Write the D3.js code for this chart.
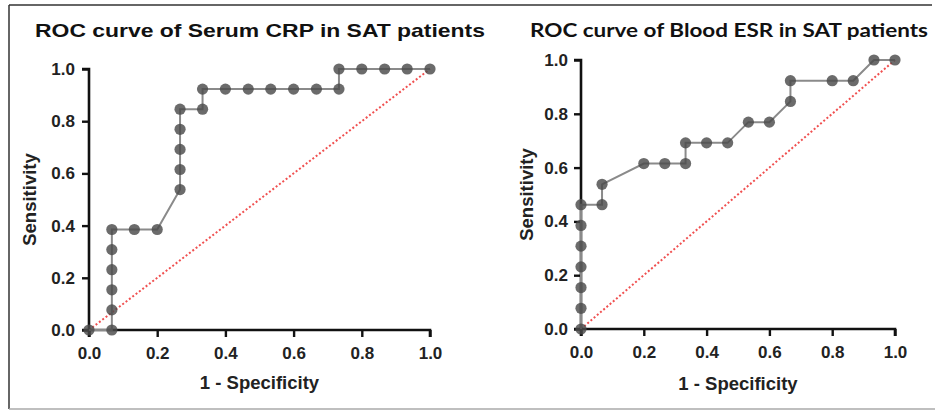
<!DOCTYPE html>
<html><head><meta charset="utf-8">
<script src="https://cdn.jsdelivr.net/npm/d3@7"></script>
<style>
html,body{margin:0;padding:0;background:#fff;}
svg{display:block;}
</style></head>
<body>
<svg id="c" width="935" height="410"></svg>
<script>
// Data
const ticks = [0.0, 0.2, 0.4, 0.6, 0.8, 1.0];
const crpFPR = [0, 0.067, 0.067, 0.067, 0.067, 0.067, 0.067, 0.133, 0.2, 0.267, 0.267, 0.267, 0.267, 0.267, 0.333, 0.333, 0.4, 0.467, 0.533, 0.6, 0.667, 0.733, 0.733, 0.8, 0.867, 0.933, 1.0];
const crpTPR = [0, 0, 0.077, 0.154, 0.231, 0.308, 0.385, 0.385, 0.385, 0.538, 0.615, 0.692, 0.769, 0.846, 0.846, 0.923, 0.923, 0.923, 0.923, 0.923, 0.923, 0.923, 1.0, 1.0, 1.0, 1.0, 1.0];
const esrFPR = [0, 0, 0, 0, 0, 0, 0, 0.067, 0.067, 0.2, 0.267, 0.333, 0.333, 0.4, 0.467, 0.533, 0.6, 0.667, 0.667, 0.8, 0.867, 0.933, 1.0];
const esrTPR = [0, 0.077, 0.154, 0.231, 0.308, 0.385, 0.462, 0.462, 0.538, 0.615, 0.615, 0.615, 0.692, 0.692, 0.692, 0.769, 0.769, 0.846, 0.923, 0.923, 0.923, 1.0, 1.0];
const titles = ["ROC curve of Serum CRP in SAT patients", "ROC curve of Blood ESR in SAT patients"];
const xTitle = "1 - Specificity";
const yTitle = "Sensitivity";

const svg = d3.select("#c");
// frame
svg.append("line").attr("x1",9).attr("x2",932).attr("y1",5).attr("y2",5).attr("stroke","#333").attr("stroke-width",1.5);
svg.append("line").attr("x1",9).attr("x2",9).attr("y1",5).attr("y2",409).attr("stroke","#333").attr("stroke-width",1.5);
svg.append("line").attr("x1",9).attr("x2",935).attr("y1",409).attr("y2",409).attr("stroke","#aaa").attr("stroke-width",1.5);

const FONT = "Liberation Sans, Arial, sans-serif";
const panels = [
  {fx: crpFPR, ty: crpTPR, x0: 89, x1: 430, y0: 330, y1: 69, title: titles[0], tx: 35, tfont: FONT, tsize: 18.5, tlen: 450, ytx: 36, xty: 389, ypad: 7},
  {fx: esrFPR, ty: esrTPR, x0: 581, x1: 895, y0: 329, y1: 60, title: titles[1], tx: 530, tfont: "Lato, sans-serif", tsize: 19.5, tlen: 398, ytx: 533, xty: 390, ypad: 6}
];

panels.forEach(p => {
  const g = svg.append("g");
  const x = d3.scaleLinear().domain([0,1]).range([p.x0, p.x1]);
  const y = d3.scaleLinear().domain([0,1]).range([p.y0, p.y1]);

  // title
  g.append("text").attr("x", p.tx).attr("y", 37)
    .attr("font-family", p.tfont).attr("font-weight","bold").attr("font-size", p.tsize)
    .attr("textLength", p.tlen).attr("lengthAdjust","spacingAndGlyphs")
    .attr("fill","#111").text(p.title);

  // diagonal reference
  g.append("line").attr("x1", x(0)).attr("y1", y(0)).attr("x2", x(1)).attr("y2", y(1))
    .attr("stroke","#f05050").attr("stroke-width",2).attr("stroke-dasharray","2,2.2");

  // axes
  const xa = g.append("g").attr("transform", `translate(0,${p.y0})`)
    .call(d3.axisBottom(x).tickValues(ticks).tickFormat(d3.format(".1f")).tickSize(7).tickPadding(10));
  const ya = g.append("g").attr("transform", `translate(${p.x0},0)`)
    .call(d3.axisLeft(y).tickValues(ticks).tickFormat(d3.format(".1f")).tickSize(7).tickPadding(p.ypad));
  [xa, ya].forEach(a => {
    a.select(".domain").attr("stroke","#111").attr("stroke-width",2.6);
    a.selectAll(".tick line").attr("stroke","#111").attr("stroke-width",2.4);
    a.selectAll(".tick text").attr("fill","#222").attr("font-family",FONT)
      .attr("font-weight","bold").attr("font-size",17);
  });
  ya.select(".domain").attr("d", `M-7,${p.y1}H0V${p.y0}H-7`);
  xa.select(".domain").attr("d", `M${p.x0},7V0H${p.x1}V7`);

  // axis titles
  g.append("text").attr("x", (p.x0+p.x1)/2).attr("y", p.xty).attr("text-anchor","middle")
    .attr("font-family",FONT).attr("font-weight","bold").attr("font-size",18.5)
    .attr("fill","#222").text(xTitle);
  g.append("text").attr("transform", `translate(${p.ytx},${(p.y0+p.y1)/2}) rotate(-90)`).attr("text-anchor","middle")
    .attr("font-family",FONT).attr("font-weight","bold").attr("font-size",18.5)
    .attr("fill","#222").text(yTitle);

  // curve
  const pts = p.fx.map((v,i) => [v, p.ty[i]]);
  g.append("path").datum(pts)
    .attr("d", d3.line().x(d => x(d[0])).y(d => y(d[1])))
    .attr("fill","none").attr("stroke","#8a8a8a").attr("stroke-width",2);
  g.selectAll("circle.pt").data(pts).enter().append("circle").attr("class","pt")
    .attr("cx", d => x(d[0])).attr("cy", d => y(d[1])).attr("r", 5.6)
    .attr("fill","#4a4a4a").attr("fill-opacity",0.82);
});
</script>
</body></html>
